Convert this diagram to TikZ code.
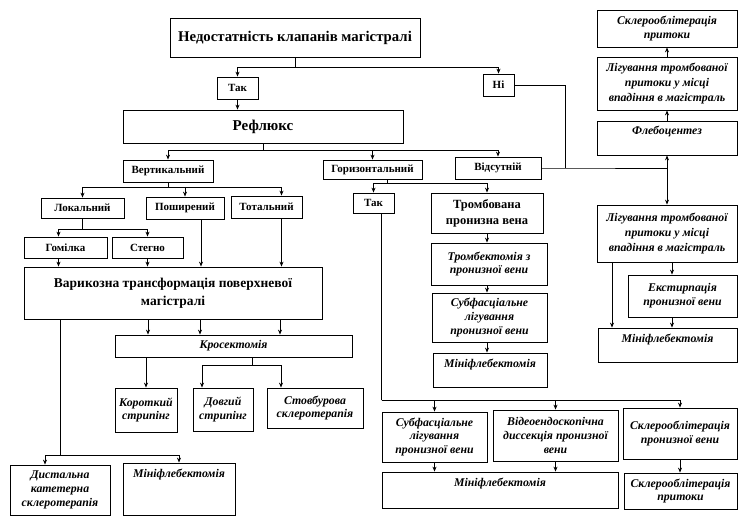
\documentclass[tikz,border=0pt]{standalone}
\usepackage{fontspec}
\setmainfont{Liberation Serif}
\usepackage{tikz}
\usetikzlibrary{arrows.meta, positioning}
\tikzset{
  box/.style={rectangle, draw=black, line width=0.8pt, align=center,
    inner sep=2pt, font=\bfseries\fontsize{11}{12}\selectfont},
  bigbox/.style={box, font=\bfseries\fontsize{14.8}{18}\selectfont},
  ibox/.style={box, font=\bfseries\itshape\fontsize{11.8}{13.8}\selectfont},
  topline/.style={text height=11pt, inner sep=3pt},
  arrow/.style={-{Stealth[length=5pt,width=4pt]}, line width=0.8pt},
  line/.style={line width=0.8pt}
}
\begin{document}
\begin{tikzpicture}[x=1pt, y=-1pt]
  \useasboundingbox (0,0) rectangle (739,516);

  % upper part
  \node[bigbox, minimum width=250pt, minimum height=39pt] (nedost) at (295,37.5) {Недостатність клапанів магістралі};
  \node[box, minimum width=41pt, minimum height=22pt] (tak) at (237.5,88) {Так};
  \node[box, minimum width=31pt, minimum height=22pt] (ni) at (498.5,85) {Ні};
  \node[bigbox, minimum width=280pt, minimum height=33pt, font=\bfseries\fontsize{15}{18}\selectfont] (reflux) at (263,126.5) {Рефлюкс};
  \node[box, minimum width=90pt, minimum height=22pt] (vert) at (168,171) {Вертикальний};
  \node[box, minimum width=99pt, minimum height=19pt] (horiz) at (372.5,169.5) {Горизонтальний};
  \node[box, minimum width=86pt, minimum height=22pt] (absent) at (498,168) {Відсутній};

  % vertical reflux
  \node[box, minimum width=83pt, minimum height=20pt] (local) at (82.5,208) {Локальний};
  \node[box, minimum width=78pt, minimum height=22pt] (wide) at (185,208) {Поширений};
  \node[box, minimum width=71pt, minimum height=22pt] (total) at (266.5,207) {Тотальний};
  \node[box, minimum width=83pt, minimum height=21pt] (shin) at (65.5,247.5) {Гомілка};
  \node[box, minimum width=71pt, minimum height=21pt] (thigh) at (147.5,247.5) {Стегно};
  \node[bigbox, minimum width=298pt, minimum height=52pt, font=\bfseries\fontsize{13.5}{18}\selectfont] (varic) at (173,293) {Варикозна трансформація поверхневої\\магістралі};
  \node[ibox, minimum width=237pt, minimum height=22pt] (cross) at (233.5,346) {Кросектомія};
  \node[ibox, minimum width=62pt, minimum height=44pt] (shortstr) at (146,410) {Короткий\\стрипінг};
  \node[ibox, minimum width=60pt, minimum height=43pt] (longstr) at (223,409.5) {Довгий\\стрипінг};
  \node[ibox, minimum width=96pt, minimum height=40pt] (stemscl) at (315,408) {Стовбурова\\склеротерапія};
  \node[ibox, minimum width=100pt, minimum height=50pt] (distscl) at (60,490) {Дистальна\\катетерна\\склеротерапія};
  \node[ibox, topline, minimum width=112pt, text depth=35pt] (miniL) at (179,489) {Мініфлебектомія};

  % horizontal reflux
  \node[box, minimum width=41pt, minimum height=20pt] (takH) at (373.5,203) {Так};
  \node[box, minimum width=112pt, minimum height=40pt, font=\bfseries\fontsize{12.5}{16}\selectfont] (thromb) at (487,213) {Тромбована\\пронизна вена};
  \node[ibox, minimum width=116pt, minimum height=42pt] (thrombect) at (489,264) {Тромбектомія з\\пронизної вени};
  \node[ibox, minimum width=115pt, minimum height=49pt] (subfA) at (489.5,317.5) {Субфасціальне\\лігування\\пронизної вени};
  \node[ibox, topline, minimum width=114pt, text depth=17pt] (miniM) at (490,370) {Мініфлебектомія};
  \node[ibox, minimum width=105pt, minimum height=50pt] (subfB) at (434.5,437) {Субфасціальне\\лігування\\пронизної вени};
  \node[ibox, minimum width=125pt, minimum height=51pt] (video) at (555.5,435.5) {Відеоендоскопічна\\диссекція пронизної\\вени};
  \node[ibox, minimum width=114pt, minimum height=51pt] (sclperf) at (680,433.5) {Склерооблітерація\\пронизної вени};
  \node[ibox, topline, minimum width=236pt, text depth=19pt] (miniB) at (500,490) {Мініфлебектомія};
  \node[ibox, minimum width=113pt, minimum height=36pt] (sclTrib) at (680.5,491) {Склерооблітерація\\притоки};

  % no reflux
  \node[ibox, minimum width=140pt, minimum height=37pt] (sclTop) at (667,28.5) {Склерооблітерація\\притоки};
  \node[ibox, minimum width=140pt, minimum height=53pt, font=\bfseries\itshape\fontsize{11.8}{15}\selectfont] (ligTop) at (667,83.5) {Лігування тромбованої\\притоки у місці\\впадіння в магістраль};
  \node[ibox, topline, minimum width=140pt, text depth=17pt] (phlebo) at (667,138) {Флебоцентез};
  \node[ibox, minimum width=140pt, minimum height=57pt, font=\bfseries\itshape\fontsize{11.8}{15}\selectfont] (ligLow) at (667,233.5) {Лігування тромбованої\\притоки у місці\\впадіння в магістраль};
  \node[ibox, minimum width=109pt, minimum height=42pt] (extirp) at (682.5,296) {Екстирпація\\пронизної вени};
  \node[ibox, topline, minimum width=139pt, text depth=17pt] (miniR) at (667.5,345) {Мініфлебектомія};

  % connectors
  \draw[line] (nedost.south) -- ++(0,10) coordinate (j0);
  \draw[arrow] (j0) -| (tak.north);
  \draw[arrow] (j0) -| (ni.north);
  \draw[arrow] (tak.south) -- (tak.south |- reflux.north);

  \draw[line] (reflux.south) -- ++(0,7) coordinate (j1);
  \draw[arrow] (j1) -| (vert.north);
  \draw[arrow] (j1) -| (horiz.north);
  \draw[arrow] (j1) -| (absent.north);

  \draw[line] (vert.south) -- ++(0,5) coordinate (j2);
  \draw[arrow] (j2) -| (local.north);
  \draw[arrow] (j2) -| (wide.north);
  \draw[arrow] (j2) -| ([xshift=15pt]total.north);
  \draw[line] (local.south) -- ++(0,11) coordinate (j3);
  \draw[arrow] (j3) -| ([xshift=-7pt]shin.north);
  \draw[arrow] (j3) -| (thigh.north);
  \draw[arrow] ([xshift=-7pt]shin.south) -- ([xshift=-7pt]shin.south |- varic.north);
  \draw[arrow] (thigh.south) -- (thigh.south |- varic.north);
  \draw[arrow] ([xshift=16pt]wide.south) -- ([xshift=16pt]wide.south |- varic.north);
  \draw[arrow] ([xshift=15pt]total.south) -- ([xshift=15pt]total.south |- varic.north);

  \draw[arrow] ([xshift=-25pt]varic.south) -- ([xshift=-25pt]varic.south |- cross.north);
  \draw[arrow] ([xshift=27pt]varic.south) -- ([xshift=27pt]varic.south |- cross.north);
  \draw[arrow] ([xshift=107pt]varic.south) -- ([xshift=107pt]varic.south |- cross.north);
  \draw[line] ([xshift=-113pt]varic.south) -- ++(0,136) coordinate (j4);
  \draw[arrow] (j4) -| ([xshift=-15pt]distscl.north);
  \draw[arrow] (j4) -| (miniL.north);

  \draw[arrow] (cross.south -| shortstr.north) -- (shortstr.north);
  \draw[line] ([xshift=18.5pt]cross.south) -- ++(0,8) coordinate (j5);
  \draw[arrow] (j5) -| ([xshift=-21pt]longstr.north);
  \draw[arrow] (j5) -| ([xshift=-34pt]stemscl.north);

  \draw[line] ([xshift=15pt]horiz.south) -- ++(0,4) coordinate (j6);
  \draw[arrow] (j6) -| (takH.north);
  \draw[arrow] (j6) -| (thromb.north);
  \draw[arrow] (thromb.south) -- (thromb.south |- thrombect.north);
  \draw[arrow] (thromb.south |- thrombect.south) -- (thromb.south |- subfA.north);
  \draw[arrow] (thromb.south |- subfA.south) -- (thromb.south |- miniM.north);

  \draw[line] ([xshift=8pt]takH.south) -- ++(0,187) coordinate (j7);
  \draw[arrow] (j7) -| (subfB.north);
  \draw[arrow] (j7) -| (video.north);
  \draw[arrow] (j7) -| (sclperf.north);
  \draw[arrow] (subfB.south) -- (subfB.south |- miniB.north);
  \draw[arrow] (video.south) -- (video.south |- miniB.north);
  \draw[arrow] (sclperf.south) -- (sclperf.south |- sclTrib.north);

  \coordinate (nj) at (565,168);
  \coordinate (fj) at (phlebo.south |- nj);
  \draw[line] (ni.east) -| (nj);
  \draw[line] (absent.east) -- (nj) -- (fj);
  \draw[arrow] (fj) -- (phlebo.south);
  \draw[arrow] (fj) -- (ligLow.north);
  \draw[arrow] (phlebo.north) -- (ligTop.south);
  \draw[arrow] (ligTop.north) -- (sclTop.south);
  \draw[arrow] ([xshift=5pt]ligLow.south) -- ([xshift=5pt]ligLow.south |- extirp.north);
  \draw[arrow] ([xshift=5pt]ligLow.south |- extirp.south) -- ([xshift=5pt]ligLow.south |- miniR.north);
  \draw[arrow] ([xshift=-55pt]ligLow.south) -- ([xshift=-55pt]ligLow.south |- miniR.north);
\end{tikzpicture}
\end{document}
